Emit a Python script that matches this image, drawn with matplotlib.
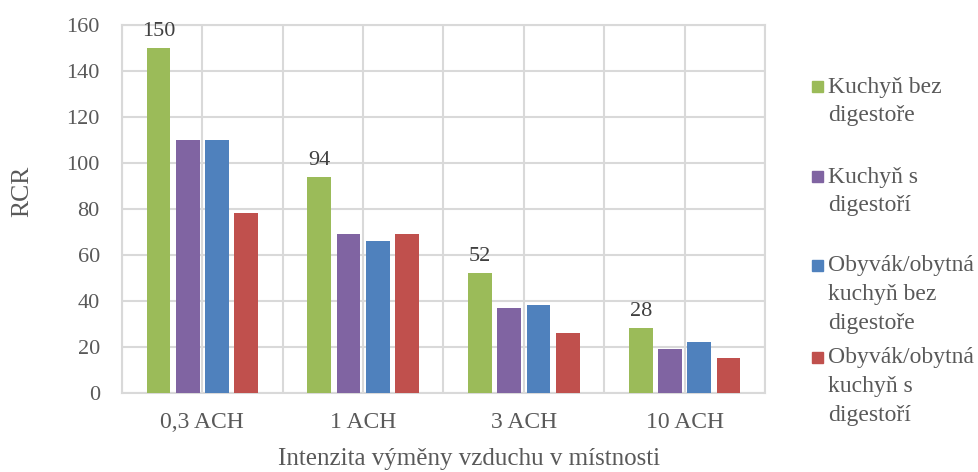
import matplotlib
matplotlib.use("Agg")
import matplotlib.pyplot as plt
from matplotlib.patches import Rectangle
import numpy as np

# Data
categories = ["0,3 ACH", "1 ACH", "3 ACH", "10 ACH"]
series_labels = [
    "Kuchyň bez\ndigestoře",
    "Kuchyň s\ndigestoří",
    "Obyvák/obytná\nkuchyň bez\ndigestoře",
    "Obyvák/obytná\nkuchyň s\ndigestoří",
]
kuchyn_bez = [150, 94, 52, 28]
kuchyn_s = [110, 69, 37, 19]
obyvak_bez = [110, 66, 38, 22]
obyvak_s = [78, 69, 26, 15]
series_values = [kuchyn_bez, kuchyn_s, obyvak_bez, obyvak_s]
colors = ["#9BBB59", "#8064A2", "#4F81BD", "#C0504D"]
y_ticks = [0, 20, 40, 60, 80, 100, 120, 140, 160]

TEXT = "#595959"
GRID = "#D9D9D9"
plt.rcParams["font.family"] = ["Liberation Serif", "DejaVu Serif"]

fig = plt.figure(figsize=(9.79, 4.72), dpi=100)
W, H = 979, 472
L, R, T, B = 122, 765, 25, 392.7
ax = fig.add_axes([L / W, 1 - B / H, (R - L) / W, (B - T) / H])

x = np.arange(len(categories))
step = 0.182
width = 0.147
for i, (vals, col) in enumerate(zip(series_values, colors)):
    bars = ax.bar(x + (i - 1.5) * step, vals, width=width, color=col, zorder=3)
    if i == 0:
        for b, v in zip(bars, vals):
            ax.annotate(f"{v}", (b.get_x() + b.get_width() / 2, v),
                        xytext=(0, 5), textcoords="offset points",
                        ha="center", va="bottom", fontsize=16, color="#404040")

ax.set_xlim(-0.5, len(categories) - 0.5)
ax.set_ylim(0, 160)
ax.set_yticks(y_ticks)
ax.set_xticks(x)
ax.set_xticklabels(categories)
ax.set_xticks(np.arange(-0.5, len(categories), 0.5), minor=True)
ax.grid(True, which="major", axis="y", color=GRID, lw=1.5, zorder=0)
ax.grid(True, which="both", axis="x", color=GRID, lw=1.5, zorder=0)
ax.tick_params(which="both", length=0)
ax.tick_params(axis="y", pad=16, labelsize=16, labelcolor=TEXT)
ax.tick_params(axis="x", pad=14, labelsize=17, labelcolor=TEXT)
for s in ax.spines.values():
    s.set_color(GRID)
    s.set_linewidth(1.5)

ax.set_ylabel("RCR", fontsize=18.5, color=TEXT, va="center", ha="center")
ax.yaxis.set_label_coords((22.5 - L) / (R - L), (B - 191) / (B - T))
ax.set_xlabel("Intenzita výměny vzduchu v místnosti", fontsize=18,
              color=TEXT, va="center", ha="center")
ax.xaxis.set_label_coords((469 - L) / (R - L), (B - 459) / (B - T))

# Legend on the right, one block per series
entry_tops = [87, 177, 266, 358]
line_h = 28.5
for lbl, col, yc in zip(series_labels, colors, entry_tops):
    fig.patches.append(Rectangle((812 / W, 1 - (yc + 5) / H), 11 / W, 11 / H,
                                 transform=fig.transFigure, color=col))
    for k, line in enumerate(lbl.split("\n")):
        fig.text(828 / W, 1 - (yc + k * line_h) / H, line, fontsize=17,
                 color=TEXT, ha="left", va="center")

fig.savefig("out.png", dpi=100)
